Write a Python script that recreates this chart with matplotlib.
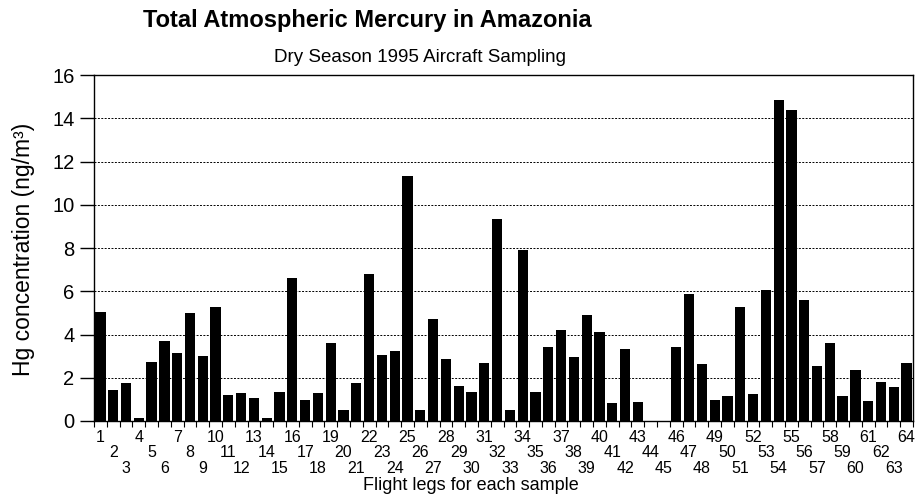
import numpy as np
import matplotlib.pyplot as plt

plt.rcParams['font.family'] = ['Liberation Sans', 'DejaVu Sans']

legs = list(range(1, 65))
hg = [5.02, 1.43, 1.77, 0.15, 2.74, 3.70, 3.13, 4.99, 3.02, 5.27,
      1.19, 1.29, 1.06, 0.15, 1.32, 6.60, 0.95, 1.29, 3.63, 0.52,
      1.74, 6.82, 3.05, 3.22, 11.33, 0.49, 4.71, 2.88, 1.62, 1.32,
      2.66, 9.32, 0.52, 7.90, 1.32, 3.43, 4.20, 2.97, 4.88, 4.11,
      0.82, 3.33, 0.86, 0.0, 0.0, 3.43, 5.87, 2.65, 0.97, 1.17,
      5.27, 1.25, 6.04, 14.83, 14.37, 5.59, 2.56, 3.62, 1.14, 2.36,
      0.94, 1.79, 1.58, 2.66]
yticks = [0, 2, 4, 6, 8, 10, 12, 14, 16]

fig = plt.figure(figsize=(9.17, 4.95), dpi=100)
ax = fig.add_axes([94/917, 1 - 421/495, (913-94)/917, (421-75)/495])

ax.bar(legs, hg, width=0.8, color='black', zorder=3)

ax.set_xlim(0.5, 64.5)
ax.set_ylim(0, 16)
ax.set_yticks(yticks)
ax.set_yticklabels([str(v) for v in yticks], fontsize=14.5)
ax.tick_params(axis='y', direction='out', length=10, width=1, pad=4)
for v in yticks[1:-1]:
    ax.axhline(v, color='black', lw=0.7, ls=(0, (2, 1.5)), zorder=1)

# x labels staggered in three rows
ax.set_xticks(legs)
ax.set_xticklabels([])
ax.set_xticks(np.arange(0.5, 65, 1), minor=True)
ax.tick_params(axis='x', which='major', length=0)
ax.tick_params(axis='x', which='minor', direction='out', length=4, width=0.8)
for i, leg in enumerate(legs):
    row = i % 3
    ax.annotate(str(leg), xy=(leg, 0), xycoords=('data', 'axes fraction'),
                xytext=(0, -6.5 - row * 11), textcoords='offset points',
                ha='center', va='top', fontsize=11.5)

for s in ax.spines.values():
    s.set_linewidth(1)

fig.text(24/917, 1 - 249/495, 'Hg concentration (ng/m³)', rotation=90,
         ha='center', va='center', fontsize=16.5)
fig.text(471/917, 1 - 485/495, 'Flight legs for each sample',
         ha='center', va='center', fontsize=13)
fig.text(367/917, 1 - 20/495, 'Total Atmospheric Mercury in Amazonia',
         ha='center', va='center', fontsize=17, fontweight='bold')
fig.text(420/917, 1 - 58/495, 'Dry Season 1995 Aircraft Sampling',
         ha='center', va='center', fontsize=13.5)

fig.savefig('out.png', dpi=100)
